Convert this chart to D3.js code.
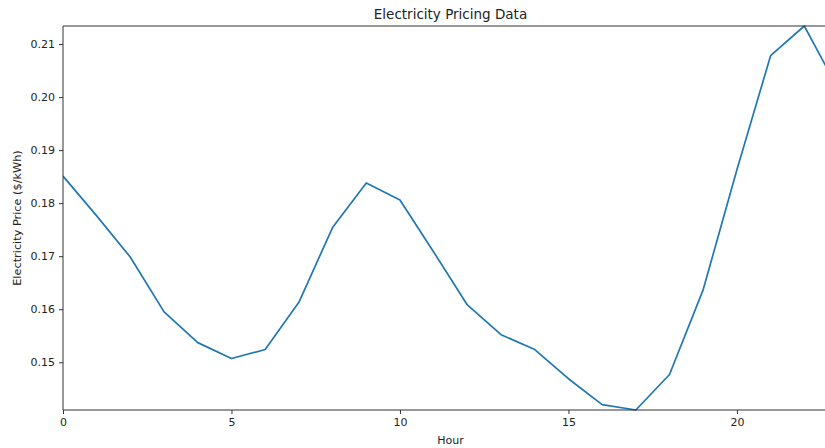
<!DOCTYPE html>
<html><head><meta charset="utf-8">
<script src="https://cdn.jsdelivr.net/npm/d3@7"></script>
<style>body{margin:0;background:#fff;} text{font-family:"DejaVu Sans",sans-serif;}</style>
</head><body><svg id="c" width="825" height="448"></svg>
<script>
const hours = [0,1,2,3,4,5,6,7,8,9,10,11,12,13,14,15,16,17,18,19,20,21,22,23];
const prices = [0.1851,0.1776,0.1698,0.1595,0.1537,0.1507,0.1524,0.1613,0.1754,0.1838,0.1806,0.1708,0.1608,0.1552,0.1524,0.1469,0.1420,0.1410,0.1477,0.1637,0.1863,0.2078,0.2134,0.2016];
const xTicks = [0,5,10,15,20];
const yTicks = [0.15,0.16,0.17,0.18,0.19,0.20,0.21];
const title = "Electricity Pricing Data", xLabel = "Hour", yLabel = "Electricity Price ($/kWh)";

const svg = d3.select("#c");
const L = 63, R = 838, T = 26, B = 410;
const x = d3.scaleLinear().domain([0,23]).range([L,R]);
const y = d3.scaleLinear().domain([d3.min(prices), d3.max(prices)]).range([B,T]);

svg.append("defs").append("clipPath").attr("id","cp")
  .append("rect").attr("x",L).attr("y",T-2).attr("width",R-L).attr("height",B-T+4);

svg.append("path").datum(hours.map((h,i)=>[h,prices[i]]))
  .attr("clip-path","url(#cp)")
  .attr("fill","none").attr("stroke","#1f77b4").attr("stroke-width",1.7)
  .attr("stroke-linejoin","round")
  .attr("d", d3.line().x(d=>x(d[0])).y(d=>y(d[1])));

const xa = svg.append("g").attr("transform",`translate(0,${B})`)
  .call(d3.axisBottom(x).tickValues(xTicks).tickFormat(d3.format("d")).tickSize(4).tickPadding(4));
const ya = svg.append("g").attr("transform",`translate(${L},0)`)
  .call(d3.axisLeft(y).tickValues(yTicks).tickFormat(d3.format(".2f")).tickSize(4).tickPadding(4));
[xa,ya].forEach(a=>{
  a.select(".domain").remove();
  a.selectAll("text").attr("font-size",11).attr("fill","#222").attr("font-family","DejaVu Sans");
  a.selectAll("line").attr("stroke","#333");
});
// spines
svg.append("line").attr("x1",L).attr("x2",L).attr("y1",T).attr("y2",B).attr("stroke","#333").attr("stroke-width",1);
svg.append("line").attr("x1",L).attr("x2",R).attr("y1",B).attr("y2",B).attr("stroke","#333").attr("stroke-width",1);
svg.append("line").attr("x1",L).attr("x2",R).attr("y1",T).attr("y2",T).attr("stroke","#333").attr("stroke-width",1);
svg.append("line").attr("x1",R).attr("x2",R).attr("y1",T).attr("y2",B).attr("stroke","#333").attr("stroke-width",1);

svg.append("text").attr("x",(L+R)/2).attr("y",19).attr("text-anchor","middle")
  .attr("font-size",13.5).attr("fill","#222").text(title);
svg.append("text").attr("x",(L+R)/2).attr("y",444).attr("text-anchor","middle")
  .attr("font-size",11).attr("fill","#222").text(xLabel);
svg.append("text").attr("transform",`translate(21,${(T+B)/2}) rotate(-90)`).attr("text-anchor","middle")
  .attr("font-size",11.3).attr("fill","#222").text(yLabel);
</script></body></html>
